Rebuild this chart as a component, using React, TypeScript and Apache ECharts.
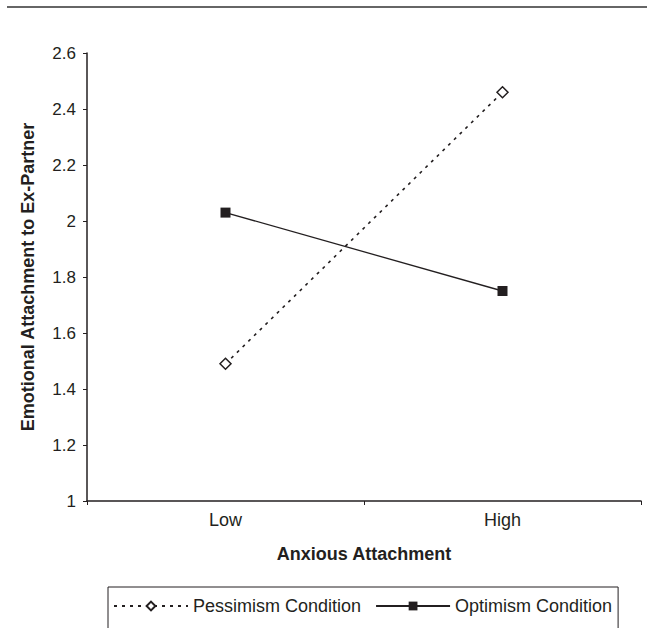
import React, { useEffect, useRef } from "react";
import * as echarts from "echarts";

const categories = ["Low", "High"];
const pessimism = [1.49, 2.46];
const optimism = [2.03, 1.75];
const seriesNames = ["Pessimism Condition", "Optimism Condition"];
const yTitle = "Emotional Attachment to Ex-Partner";
const xTitle = "Anxious Attachment";

const FONT = "'Liberation Sans', Arial, sans-serif";
const INK = "#231f20";

export default function App() {
  const ref = useRef<HTMLDivElement>(null);
  useEffect(() => {
    if (!ref.current) return;
    const chart = echarts.init(ref.current, null, { renderer: "svg" });
    chart.setOption({
      animation: false,
      backgroundColor: "#ffffff",
      textStyle: { fontFamily: FONT, color: INK },
      grid: { left: 87, right: 6, top: 53, bottom: 127 },
      graphic: [
        {
          type: "line",
          shape: { x1: 7, y1: 7, x2: 647, y2: 7 },
          style: { stroke: "#666666", lineWidth: 2 },
        },
      ],
      legend: {
        left: 108,
        top: 587,
        width: 520,
        orient: "horizontal",
        borderColor: INK,
        borderWidth: 1,
        padding: [10, 6, 30, 5],
        itemWidth: 74,
        itemHeight: 11,
        itemGap: 14,
        textStyle: { fontFamily: FONT, fontSize: 18, color: INK },
        data: seriesNames,
      },
      xAxis: {
        type: "category",
        data: categories,
        boundaryGap: true,
        axisLine: { lineStyle: { color: INK, width: 1.5 } },
        axisTick: { show: true, inside: false, length: 4, lineStyle: { color: INK } },
        axisLabel: { margin: 10, fontSize: 18, color: INK, fontFamily: FONT },
        name: xTitle,
        nameLocation: "middle",
        nameGap: 44,
        nameTextStyle: { fontSize: 18, fontWeight: "bold", color: INK, fontFamily: FONT },
        splitLine: { show: false },
      },
      yAxis: {
        type: "value",
        min: 1,
        max: 2.6,
        interval: 0.2,
        axisLine: { show: true, lineStyle: { color: INK, width: 1.5 } },
        axisTick: { show: true, inside: false, length: 4, lineStyle: { color: INK } },
        axisLabel: { margin: 11, fontSize: 17, color: INK, fontFamily: FONT },
        splitLine: { show: false },
        name: yTitle,
        nameLocation: "middle",
        nameGap: 50,
        nameTextStyle: { fontSize: 18, fontWeight: "bold", color: INK, fontFamily: FONT },
      },
      series: [
        {
          name: seriesNames[0],
          type: "line",
          data: pessimism,
          symbol: "diamond",
          symbolSize: 11,
          itemStyle: { color: "#ffffff", borderColor: INK, borderWidth: 1.5 },
          lineStyle: { color: INK, width: 1.6, type: [3, 5] },
        },
        {
          name: seriesNames[1],
          type: "line",
          data: optimism,
          symbol: "rect",
          symbolSize: 10,
          itemStyle: { color: INK, borderColor: INK, borderWidth: 0 },
          lineStyle: { color: INK, width: 1.3, type: "solid" },
        },
      ],
    });
    return () => chart.dispose();
  }, []);
  return (
    <div
      ref={ref}
      style={{ position: "fixed", left: 0, top: 0, width: 647, height: 628, background: "#fff" }}
    />
  );
}
